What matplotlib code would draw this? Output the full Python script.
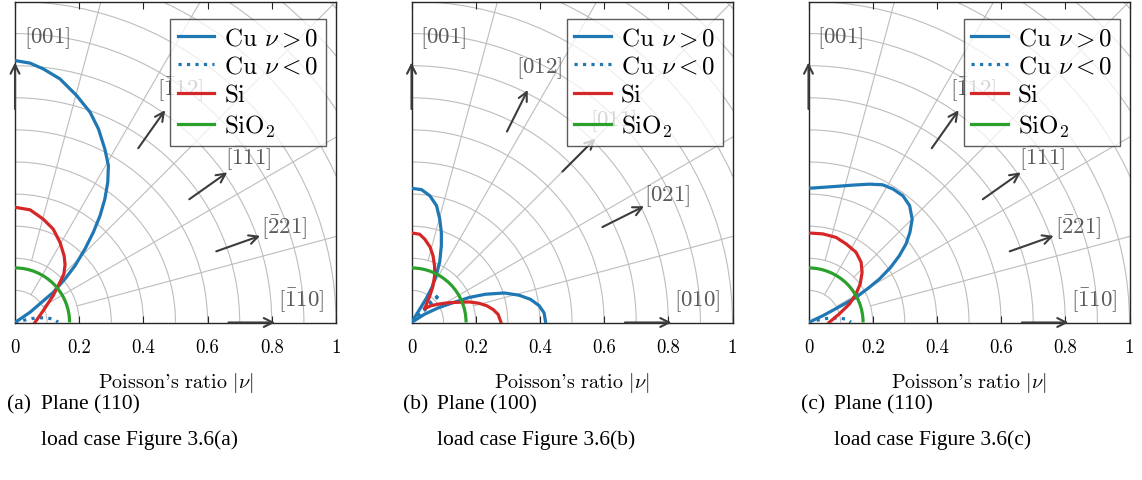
import numpy as np
import matplotlib.pyplot as plt
from matplotlib.patches import Arc
from matplotlib.lines import Line2D

# ------------------------------------------------------------
# Data, in plot coordinates
# x = |nu| cos(theta), y = |nu| sin(theta)
# ------------------------------------------------------------

# (a) plane (110), load case 3.6(a)
a_cu_pos_x = [0.0, 0.047, 0.088, 0.140, 0.192, 0.234, 0.260, 0.280, 0.291, 0.289, 0.280,
              0.265, 0.244, 0.218, 0.187, 0.156, 0.119, 0.083, 0.047, 0.0]
a_cu_pos_y = [0.816, 0.808, 0.790, 0.759, 0.707, 0.655, 0.603, 0.540, 0.489, 0.437, 0.385,
              0.333, 0.281, 0.229, 0.177, 0.136, 0.094, 0.063, 0.032, 0.0]
a_cu_neg_x = [0.0, 0.036, 0.067, 0.098, 0.124, 0.134]
a_cu_neg_y = [0.0, 0.009, 0.0145, 0.015, 0.009, 0.001]
a_si_x = [0.0, 0.047, 0.088, 0.119, 0.140, 0.153, 0.156, 0.152, 0.140, 0.119, 0.088, 0.062]
a_si_y = [0.359, 0.351, 0.322, 0.291, 0.250, 0.208, 0.180, 0.150, 0.125, 0.084, 0.037, 0.0]

# (b) plane (100), load case 3.6(b)
b_cu_pos_x = [0.0, 0.031, 0.057, 0.078, 0.088, 0.093, 0.093, 0.088, 0.078, 0.064, 0.046, 0.026,
              0.0, 0.041, 0.082, 0.130, 0.180, 0.230, 0.289, 0.335, 0.371, 0.398, 0.413, 0.418]
b_cu_pos_y = [0.418, 0.414, 0.395, 0.364, 0.322, 0.281, 0.239, 0.190, 0.150, 0.110, 0.075, 0.042,
              0.0, 0.026, 0.045, 0.062, 0.078, 0.088, 0.092, 0.085, 0.072, 0.052, 0.030, 0.0]
b_cu_neg_x = [0.0, 0.066, 0.088, 0.064, 0.0]
b_cu_neg_y = [0.0, 0.062, 0.088, 0.068, 0.0]
b_si_x = [0.0, 0.025, 0.041, 0.058, 0.067, 0.072, 0.072, 0.066, 0.057, 0.048, 0.041,
          0.060, 0.082, 0.110, 0.134, 0.180, 0.210, 0.235, 0.255, 0.270, 0.279]
b_si_y = [0.279, 0.275, 0.260, 0.235, 0.208, 0.175, 0.145, 0.110, 0.083, 0.060, 0.043,
          0.052, 0.057, 0.061, 0.0625, 0.064, 0.060, 0.052, 0.040, 0.025, 0.0]

# (c) plane (110), load case 3.6(c)
c_cu_pos_x = [0.0, 0.086, 0.138, 0.190, 0.231, 0.263, 0.294, 0.315, 0.323, 0.316, 0.304, 0.283,
              0.256, 0.221, 0.190, 0.148, 0.107, 0.0445, 0.0]
c_cu_pos_y = [0.418, 0.424, 0.428, 0.431, 0.429, 0.416, 0.395, 0.364, 0.322, 0.281, 0.245, 0.208,
              0.172, 0.1355, 0.110, 0.078, 0.055, 0.021, 0.0]
c_cu_neg_x = [0.0, 0.034, 0.066, 0.098, 0.122, 0.132]
c_cu_neg_y = [0.0, 0.009, 0.014, 0.014, 0.009, 0.001]
c_si_x = [0.0, 0.045, 0.086, 0.117, 0.148, 0.164, 0.167, 0.161, 0.148, 0.128, 0.095, 0.064]
c_si_y = [0.279, 0.276, 0.265, 0.245, 0.219, 0.1875, 0.156, 0.120, 0.089, 0.058, 0.026, 0.0]

# SiO2 is isotropic
sio2_nu = 0.17

# crystal directions shown as arrows (Miller indices)
dirs_110 = [(0, 0, 1), (-1, 1, 2), (-1, 1, 1), (-2, 2, 1), (-1, 1, 0)]
labels_110 = [r'$[001]$', r'$[\bar{1}12]$', r'$[\bar{1}11]$', r'$[\bar{2}21]$', r'$[\bar{1}10]$']
dirs_100 = [(0, 0, 1), (0, 1, 2), (0, 1, 1), (0, 2, 1), (0, 1, 0)]
labels_100 = [r'$[001]$', r'$[012]$', r'$[011]$', r'$[021]$', r'$[010]$']

tick_vals = [0, 0.2, 0.4, 0.6, 0.8, 1]
tick_labels = ['0', '0.2', '0.4', '0.6', '0.8', '1']

captions = [('(a)', 'Plane (110)', 'load case Figure 3.6(a)'),
            ('(b)', 'Plane (100)', 'load case Figure 3.6(b)'),
            ('(c)', 'Plane (110)', 'load case Figure 3.6(c)')]

# ------------------------------------------------------------
plt.rcParams['mathtext.fontset'] = 'cm'
plt.rcParams['axes.unicode_minus'] = False

BLUE = '#1f77b4'
RED = '#d62728'
GREEN = '#2ca02c'
GRID = '#bdbdbd'
ARROW = '#3c3c3c'
LBL = '#5a5a5a'
CM = 'cmr10'
LW = 2.3


def draw_grid(ax):
    for rad in np.arange(0.1, 1.45, 0.1):
        ax.add_patch(Arc((0, 0), 2 * rad, 2 * rad, theta1=0, theta2=90,
                         color=GRID, lw=0.8, zorder=1))
    for ang in [15, 30, 45, 60, 75]:
        r0 = 0.1 if ang in (30, 60) else 0.2
        t = np.radians(ang)
        ax.plot([r0 * np.cos(t), 1.5 * np.cos(t)], [r0 * np.sin(t), 1.5 * np.sin(t)],
                color=GRID, lw=0.8, zorder=1)


def draw_dirs(ax, dirs, labels, e1, e2):
    e1 = np.array(e1) / np.linalg.norm(e1)
    e2 = np.array(e2) / np.linalg.norm(e2)
    for d, lab in zip(dirs, labels):
        v = np.array([np.dot(d, e1), np.dot(d, e2)])
        v = v / np.linalg.norm(v)
        ax.annotate('', xy=0.81 * v, xytext=0.665 * v,
                    arrowprops=dict(arrowstyle='->', color=ARROW, lw=1.5,
                                    shrinkA=0, shrinkB=0, mutation_scale=16),
                    zorder=3, annotation_clip=False)
        p = 0.89 * v
        if v[1] < 1e-6:
            p = p + np.array([0, 0.07])
        if v[0] < 1e-6:
            p = p + np.array([0.1, 0])
        ax.text(p[0], p[1], lab, color=LBL, fontsize=16.5, ha='center', va='center', zorder=3)


fig = plt.figure(figsize=(11.42, 4.81), dpi=100)
W, H = 1142, 481
lefts = [15, 411.5, 808.5]
panels = [
    (a_cu_pos_x, a_cu_pos_y, a_cu_neg_x, a_cu_neg_y, a_si_x, a_si_y, dirs_110, labels_110, (-1, 1, 0)),
    (b_cu_pos_x, b_cu_pos_y, b_cu_neg_x, b_cu_neg_y, b_si_x, b_si_y, dirs_100, labels_100, (0, 1, 0)),
    (c_cu_pos_x, c_cu_pos_y, c_cu_neg_x, c_cu_neg_y, c_si_x, c_si_y, dirs_110, labels_110, (-1, 1, 0)),
]

for i, (px, py, nx, ny, sx, sy, dirs, labs, e1) in enumerate(panels):
    ax = fig.add_axes([lefts[i] / W, (H - 323.5) / H, 321 / W, 321 / H])
    ax.set_xlim(0, 1)
    ax.set_ylim(0, 1)
    draw_grid(ax)
    draw_dirs(ax, dirs, labs, e1, (0, 0, 1))

    ax.plot(px, py, color=BLUE, lw=LW, zorder=4, solid_joinstyle='round')
    ax.plot(nx, ny, color=BLUE, lw=LW, ls=':', zorder=4)
    ax.plot(sx, sy, color=RED, lw=LW, zorder=4, solid_joinstyle='round')
    ax.add_patch(Arc((0, 0), 2 * sio2_nu, 2 * sio2_nu, theta1=0, theta2=90,
                     color=GREEN, lw=LW, zorder=4))

    handles = [Line2D([], [], color=BLUE, lw=LW),
               Line2D([], [], color=BLUE, lw=LW, ls=':'),
               Line2D([], [], color=RED, lw=LW),
               Line2D([], [], color=GREEN, lw=LW)]
    leg = ax.legend(handles, [r'Cu $\nu>0$', r'Cu $\nu<0$', 'Si', r'SiO$_2$'],
                    loc='upper right', bbox_to_anchor=(1 - 10 / 321, 1 - 17.5 / 321),
                    borderaxespad=0, fancybox=False, framealpha=0.75,
                    edgecolor='#262626', prop={'family': CM, 'size': 18},
                    handlelength=1.45, handletextpad=0.4, labelspacing=0.24,
                    borderpad=0.3)
    leg.get_frame().set_linewidth(1.0)
    leg.set_zorder(6)

    ax.set_xticks(tick_vals)
    ax.set_xticklabels(tick_labels, fontfamily=CM, fontsize=13.5)
    ax.set_yticks([])
    ax.tick_params(axis='x', direction='in', top=True, length=5, width=0.8,
                   pad=11, color='#262626')
    for s in ax.spines.values():
        s.set_color('#262626')
        s.set_linewidth(1.0)
    ax.set_xlabel(r"Poisson's ratio $|\nu|$", fontfamily=CM, fontsize=14.5, labelpad=10)

    # caption with hanging indent
    fig.text((lefts[i] - 8) / W, (H - 405) / H, captions[i][0],
             fontfamily='Liberation Serif', fontsize=15.5, va='center')
    fig.text((lefts[i] + 26) / W, (H - 405) / H, captions[i][1],
             fontfamily='Liberation Serif', fontsize=15.5, va='center')
    fig.text((lefts[i] + 26) / W, (H - 440) / H, captions[i][2],
             fontfamily='Liberation Serif', fontsize=15.5, va='center')

fig.savefig('out.png', dpi=100)
